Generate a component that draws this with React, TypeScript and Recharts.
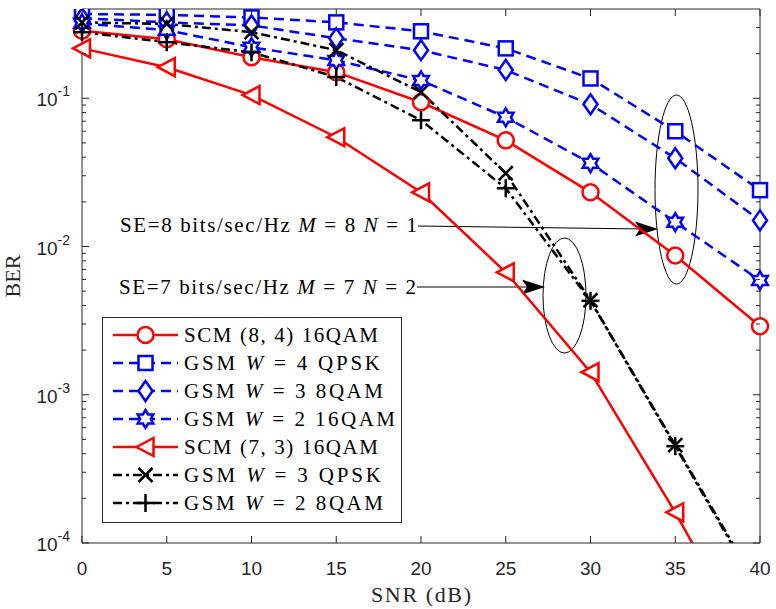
import React from "react";
import { LineChart, Line, XAxis, YAxis, Legend, Label, Customized } from "recharts";

// SNR points (dB)
const snr = [0, 5, 10, 15, 20, 25, 30, 35, 40];

// BER per scheme
const scm84_16qam = [0.285, 0.25, 0.189, 0.15, 0.094, 0.052, 0.0232, 0.0087, 0.0029];
const gsm_w4_qpsk = [0.37, 0.365, 0.351, 0.325, 0.283, 0.217, 0.136, 0.0599, 0.024];
const gsm_w3_8qam = [0.346, 0.325, 0.31, 0.254, 0.211, 0.155, 0.091, 0.0394, 0.015];
const gsm_w2_16qam = [0.32, 0.288, 0.221, 0.18, 0.132, 0.0744, 0.0365, 0.0146, 0.0059];
const scm73_16qam = [0.217, 0.162, 0.105, 0.0546, 0.0232, 0.0067, 0.00142, 0.000161, 0.000015];
const gsm_w3_qpsk = [0.325, 0.317, 0.279, 0.211, 0.11, 0.0312, 0.00434, 0.000457, 0.000048];
const gsm_w2_8qam = [0.279, 0.239, 0.204, 0.139, 0.0711, 0.0247, 0.0043, 0.00045, 0.000046];

const xTicks = [0, 5, 10, 15, 20, 25, 30, 35, 40];
const yDecades = [1e-4, 1e-3, 1e-2, 1e-1];
const yMinorSteps = [2, 3, 4, 5, 6, 7, 8, 9];

const yTicks = yDecades
  .flatMap((d) => [d, ...yMinorSteps.map((m) => m * d)])
  .filter((v) => v < 0.4);

const data = snr.map((s, i) => ({
  snr: s,
  scm84: scm84_16qam[i],
  w4qpsk: gsm_w4_qpsk[i],
  w3qam8: gsm_w3_8qam[i],
  w2qam16: gsm_w2_16qam[i],
  scm73: scm73_16qam[i],
  w3qpsk: gsm_w3_qpsk[i],
  w2qam8: gsm_w2_8qam[i],
}));

const RED = "#ff0000";
const BLUE = "#0000ff";
const BLACK = "#000000";
const AXIS = "#262626";
const DASH = "10 6";
const DASHDOT = "9 4 3 4";
const SANS = "'Liberation Sans', Arial, sans-serif";
const SERIF = "'Liberation Serif', 'Times New Roman', serif";

type Piece = [string, boolean?];

const series: {
  key: string;
  label: Piece[];
  width: number;
  color: string;
  dash?: string;
  marker: string;
}[] = [
  { key: "scm84", label: [["SCM (8, 4) 16QAM"]], width: 194, color: RED, marker: "circle" },
  { key: "w4qpsk", label: [["GSM "], ["W", true], [" = 4 QPSK"]], width: 196, color: BLUE, dash: DASH, marker: "square" },
  { key: "w3qam8", label: [["GSM "], ["W", true], [" = 3 8QAM"]], width: 199, color: BLUE, dash: DASH, marker: "diamond" },
  { key: "w2qam16", label: [["GSM "], ["W", true], [" = 2 16QAM"]], width: 211, color: BLUE, dash: DASH, marker: "hexagram" },
  { key: "scm73", label: [["SCM (7, 3) 16QAM"]], width: 194, color: RED, marker: "triangleLeft" },
  { key: "w3qpsk", label: [["GSM "], ["W", true], [" = 3 QPSK"]], width: 197, color: BLACK, dash: DASHDOT, marker: "x" },
  { key: "w2qam8", label: [["GSM "], ["W", true], [" = 2 8QAM"]], width: 199, color: BLACK, dash: DASHDOT, marker: "plus" },
];

const Marker = ({ shape, cx, cy, color }: { shape: string; cx: number; cy: number; color: string }) => {
  const common = { stroke: color, strokeWidth: 2.5, fill: "#ffffff" };
  switch (shape) {
    case "circle":
      return <circle cx={cx} cy={cy} r={8} {...common} />;
    case "square":
      return <rect x={cx - 7} y={cy - 7} width={14} height={14} {...common} />;
    case "diamond":
      return (
        <polygon
          points={`${cx},${cy - 10} ${cx + 7},${cy} ${cx},${cy + 10} ${cx - 7},${cy}`}
          {...common}
        />
      );
    case "hexagram": {
      const pts: string[] = [];
      for (let k = 0; k < 12; k++) {
        const r = k % 2 === 0 ? 9 : 5.2;
        const a = ((-90 + k * 30) * Math.PI) / 180;
        pts.push(`${cx + r * Math.cos(a)},${cy + r * Math.sin(a)}`);
      }
      return <polygon points={pts.join(" ")} {...common} />;
    }
    case "triangleLeft":
      return (
        <polygon
          points={`${cx - 9},${cy} ${cx + 8},${cy - 9} ${cx + 8},${cy + 9}`}
          {...common}
        />
      );
    case "x":
      return (
        <g stroke={color} strokeWidth={2.5}>
          <line x1={cx - 7} y1={cy - 7} x2={cx + 7} y2={cy + 7} />
          <line x1={cx - 7} y1={cy + 7} x2={cx + 7} y2={cy - 7} />
        </g>
      );
    case "plus":
      return (
        <g stroke={color} strokeWidth={2.5}>
          <line x1={cx - 9} y1={cy} x2={cx + 9} y2={cy} />
          <line x1={cx} y1={cy - 9} x2={cx} y2={cy + 9} />
        </g>
      );
    default:
      return null;
  }
};

const isMajor = (v: number) => yDecades.includes(v);

const LeftTick = (props: any) => {
  const { x, y, payload } = props;
  const major = isMajor(payload.value);
  const exp = Math.round(Math.log10(payload.value));
  return (
    <g>
      <line x1={x} y1={y} x2={x + (major ? 7 : 4)} y2={y} stroke={AXIS} />
      {major && (
        <text x={x - 12} y={y + 8} textAnchor="end" fontFamily={SANS} fontSize={19} fill={AXIS}>
          <tspan>10</tspan>
          <tspan dy={-10} fontSize={14}>{exp}</tspan>
        </text>
      )}
    </g>
  );
};

const RightTick = (props: any) => {
  const { x, y, payload } = props;
  const major = isMajor(payload.value);
  return <line x1={x} y1={y} x2={x - (major ? 7 : 4)} y2={y} stroke={AXIS} />;
};

const BottomTick = (props: any) => {
  const { x, y, payload } = props;
  return (
    <g>
      <line x1={x} y1={y} x2={x} y2={y - 7} stroke={AXIS} />
      <text x={x} y={y + 32} textAnchor="middle" fontFamily={SANS} fontSize={19} fill={AXIS}>
        {payload.value}
      </text>
    </g>
  );
};

const TopTick = (props: any) => {
  const { x, y } = props;
  return <line x1={x} y1={y} x2={x} y2={y + 7} stroke={AXIS} />;
};

const renderPieces = (pieces: Piece[]) =>
  pieces.map(([t, it], i) => (
    <tspan key={i} fontStyle={it ? "italic" : "normal"}>
      {t}
    </tspan>
  ));

const LegendBox = () => (
  <div style={{ border: `1px solid ${AXIS}`, background: "#ffffff", width: 298, height: 204 }}>
    <svg width={298} height={204} style={{ display: "block" }}>
      {series.map((s, i) => {
        const cy = 17 + i * 28;
        return (
          <g key={s.key}>
            <line
              x1={10}
              y1={cy}
              x2={75}
              y2={cy}
              stroke={s.color}
              strokeWidth={2.5}
              strokeDasharray={s.dash}
            />
            <Marker shape={s.marker} cx={42.5} cy={cy} color={s.color} />
            <text
              x={81}
              y={cy + 7}
              fontFamily={SERIF}
              fontSize={21}
              fill="#000"
              textLength={s.width}
              lengthAdjust="spacing"
            >
              {renderPieces(s.label)}
            </text>
          </g>
        );
      })}
    </svg>
  </div>
);

const ArrowHead = ({ x, y }: { x: number; y: number }) => (
  <polygon
    points={`${x},${y} ${x - 23},${y - 7.5} ${x - 18},${y} ${x - 23},${y + 7.5}`}
    fill="#000"
  />
);

// annotation layer: labels, arrows and the grouping ellipses
const Annotations = () => (
  <g>
    <text x={120} y={232} fontFamily={SERIF} fontSize={21} fill="#000" textLength={297} lengthAdjust="spacing">
      {renderPieces([["SE=8 bits/sec/Hz "], ["M", true], [" = 8 "], ["N", true], [" = 1"]])}
    </text>
    <line x1={418} y1={226} x2={645} y2={229} stroke="#000" strokeWidth={1} />
    <ArrowHead x={658} y={229} />
    <text x={119} y={294} fontFamily={SERIF} fontSize={21} fill="#000" textLength={297} lengthAdjust="spacing">
      {renderPieces([["SE=7 bits/sec/Hz "], ["M", true], [" = 7 "], ["N", true], [" = 2"]])}
    </text>
    <line x1={417} y1={287} x2={532} y2={287} stroke="#000" strokeWidth={1} />
    <ArrowHead x={545} y={287} />
    <ellipse cx={676.5} cy={189.5} rx={21.5} ry={94.5} fill="none" stroke="#000" strokeWidth={1} />
    <ellipse cx={564.5} cy={295.5} rx={21.5} ry={57.5} fill="none" stroke="#000" strokeWidth={1} />
  </g>
);

const App = () => {
  return (
    <div style={{ position: "absolute", left: 0, top: 0, background: "#fff" }}>
      <LineChart width={776} height={609} data={data} margin={{ top: 0, right: 0, bottom: 0, left: 0 }}>
        <XAxis
          dataKey="snr"
          type="number"
          domain={[0, 40]}
          ticks={xTicks}
          interval={0}
          height={66}
          tickLine={false}
          tickSize={0}
          tickMargin={0}
          tick={<BottomTick />}
          axisLine={{ stroke: AXIS }}
        >
          <Label
            content={(p: any) => (
              <text
                x={p.viewBox.x + p.viewBox.width / 2}
                y={602}
                textAnchor="middle"
                fontFamily={SERIF}
                fontSize={22}
                fill={AXIS}
                textLength={100}
                lengthAdjust="spacing"
              >
                SNR (dB)
              </text>
            )}
          />
        </XAxis>
        <XAxis
          xAxisId="top"
          orientation="top"
          dataKey="snr"
          type="number"
          domain={[0, 40]}
          ticks={xTicks}
          interval={0}
          height={9}
          tickLine={false}
          tickSize={0}
          tickMargin={0}
          tick={<TopTick />}
          axisLine={{ stroke: AXIS }}
        />
        <YAxis
          type="number"
          scale="log"
          domain={[1e-4, 0.4]}
          allowDataOverflow
          ticks={yTicks}
          interval={0}
          width={82}
          tickLine={false}
          tickSize={0}
          tickMargin={0}
          tick={<LeftTick />}
          axisLine={{ stroke: AXIS }}
        >
          <Label
            content={(p: any) => {
              const cy = p.viewBox.y + p.viewBox.height / 2;
              return (
                <text
                  x={20}
                  y={cy}
                  transform={`rotate(-90 20 ${cy})`}
                  textAnchor="middle"
                  fontFamily={SERIF}
                  fontSize={22}
                  fill={AXIS}
                >
                  BER
                </text>
              );
            }}
          />
        </YAxis>
        <YAxis
          yAxisId="right"
          orientation="right"
          type="number"
          scale="log"
          domain={[1e-4, 0.4]}
          allowDataOverflow
          ticks={yTicks}
          interval={0}
          width={16}
          tickLine={false}
          tickSize={0}
          tickMargin={0}
          tick={<RightTick />}
          axisLine={{ stroke: AXIS }}
        />
        {series.map((s) => (
          <Line
            key={s.key}
            dataKey={s.key}
            type="linear"
            stroke={s.color}
            strokeWidth={2.5}
            strokeDasharray={s.dash}
            isAnimationActive={false}
            dot={(p: any) => (
              <Marker key={`${s.key}-${p.index}`} shape={s.marker} cx={p.cx} cy={p.cy} color={s.color} />
            )}
          />
        ))}
        <Customized component={Annotations} />
        <Legend
          content={() => <LegendBox />}
          layout="vertical"
          align="center"
          verticalAlign="middle"
          wrapperStyle={{ left: 102, top: 317, width: 300, height: 206 }}
        />
      </LineChart>
    </div>
  );
};

export default App;
